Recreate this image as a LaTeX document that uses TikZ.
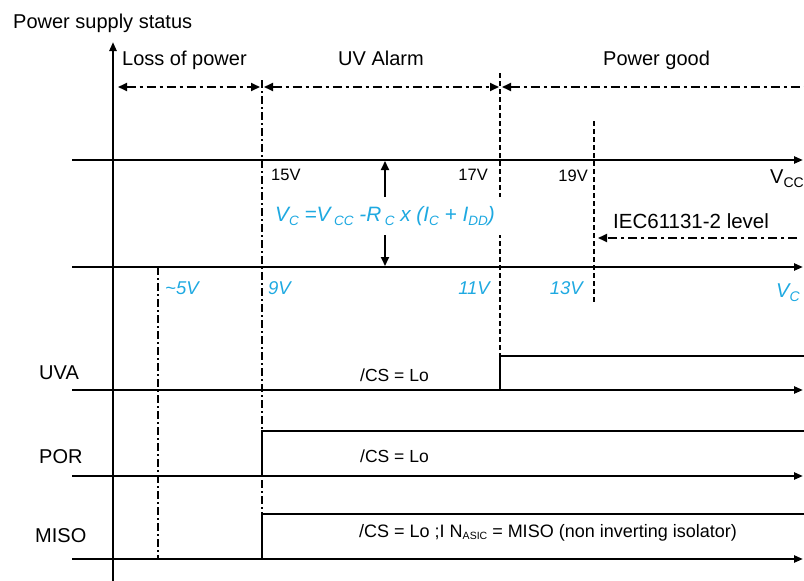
\documentclass[tikz,border=0pt]{standalone}
\usepackage{fontspec}
\setmainfont{Liberation Sans}
\usetikzlibrary{arrows.meta,positioning}
\definecolor{vcblue}{HTML}{1EA9E1}
\newcommand{\sublbl}[2]{\raisebox{-4pt}{\fontsize{#1}{#1}\selectfont #2}}

\begin{document}
\begin{tikzpicture}[x=1pt,y=-1pt,
  axisline/.style={line width=2.3pt,-{Triangle[length=9pt,width=7pt]}},
  levelline/.style={line width=1.3pt},
  dashdot/.style={line width=1.6pt,dash pattern=on 8pt off 3pt on 2pt off 3pt},
  dashline/.style={line width=1.6pt,dash pattern=on 5pt off 3pt},
  spanline/.style={line width=1.8pt,dash pattern=on 9pt off 4pt on 3pt off 4pt,
    >={Triangle[length=9pt,width=8pt]}},
  bigtxt/.style={font=\fontsize{20}{24}\selectfont,inner sep=0pt},
  smalltxt/.style={font=\fontsize{16.5}{20}\selectfont,inner sep=0pt},
  cstxt/.style={font=\fontsize{17.5}{21}\selectfont,inner sep=0pt},
  bluetxt/.style={font=\fontsize{18.5}{22}\selectfont\itshape,text=vcblue,inner sep=0pt}]
  \useasboundingbox (0,0) rectangle (804,581);

  \node[bigtxt,anchor=base west] (status) at (13,28) {Power supply status};
  \node[bigtxt,anchor=base west] (loss) at (122,65) {Loss of power};
  \node[bigtxt,anchor=base west] (uvalarm) at (338,65) {UV Alarm};
  \node[bigtxt,anchor=base west] (good) at (603,65) {Power good};

  \coordinate (axisB) at (113,581);
  \coordinate (axisT) at (113,42);
  \draw[axisline] (axisB) -- (axisT);

  \coordinate (vccL) at (72,160);  \coordinate (vccR) at (803,160);
  \coordinate (vcL) at (72,267);   \coordinate (vcR) at (803,267);
  \coordinate (uvaL) at (72,390);  \coordinate (uvaR) at (803,390);
  \coordinate (porL) at (72,476);  \coordinate (porR) at (803,476);
  \coordinate (misoL) at (72,559); \coordinate (misoR) at (803,559);
  \draw[axisline] (vccL) -- (vccR);
  \draw[axisline] (vcL) -- (vcR);
  \draw[axisline] (uvaL) -- (uvaR);
  \draw[axisline] (porL) -- (porR);
  \draw[axisline] (misoL) -- (misoR);

  \coordinate (r1L) at (118,87); \coordinate (r1R) at (260,87);
  \coordinate (r2L) at (264,87); \coordinate (r2R) at (499,87);
  \coordinate (r3L) at (502,87); \coordinate (r3R) at (804,87);
  \draw[spanline,<->] (r1L) -- (r1R);
  \draw[spanline,<->] (r2L) -- (r2R);
  \draw[spanline,<-] (r3L) -- (r3R);

  \coordinate (sepAT) at (262,80);  \coordinate (sepAB) at (262,559);
  \coordinate (sepBT) at (158,267); \coordinate (sepBB) at (158,559);
  \coordinate (sepCT) at (500,73);  \coordinate (sepCB) at (500,390);
  \coordinate (sepDT) at (594,121); \coordinate (sepDB) at (594,302);
  \draw[dashdot] (sepAT) -- (sepAB);
  \draw[dashdot] (sepBT) -- (sepBB);
  \draw[dashline] (sepCT) -- (sepCB);
  \draw[dashline] (sepDT) -- (sepDB);

  \draw[levelline] (500,390) -- (500,356) -- (804,356);
  \draw[levelline] (262,476) -- (262,431) -- (804,431);
  \draw[levelline] (262,559) -- (262,514) -- (804,514);

  \node[fill=white,inner xsep=12pt,inner ysep=0pt,minimum height=38pt,
        font=\fontsize{20.8}{24}\selectfont\itshape,text=vcblue] (formula) at (385,216)
    {V\sublbl{13.5}{C} =V\,\sublbl{13.5}{CC} -R\,\sublbl{13.5}{C} x (I\sublbl{13.5}{C} + I\sublbl{13.5}{DD})};
  \coordinate (vcTop) at (385,161);
  \coordinate (vcBot) at (385,266);
  \draw[line width=1.8pt,-{Triangle[length=9pt,width=8pt]}] (formula.north -| vcTop) -- (vcTop);
  \draw[line width=1.8pt,-{Triangle[length=9pt,width=8pt]}] (formula.south -| vcBot) -- (vcBot);

  \node[smalltxt,anchor=base west] (v15) at (271,180) {15V};
  \node[smalltxt,anchor=base east] (v17) at (488,180) {17V};
  \node[smalltxt,anchor=base east] (v19) at (588,181) {19V};
  \node[bigtxt,anchor=base west] (vcc) at (770,183) {V\sublbl{14}{CC}};

  \node[bigtxt,font=\fontsize{20.5}{24}\selectfont,anchor=base west] (iec) at (613,228) {IEC61131-2 level};
  \coordinate (iecR) at (797,238);
  \coordinate (iecL) at (598,238);
  \draw[spanline,->] (iecR) -- (iecL);

  \node[bluetxt,anchor=base west] (v5) at (165,294) {\textasciitilde 5V};
  \node[bluetxt,anchor=base west] (v9) at (268,294) {9V};
  \node[bluetxt,anchor=base east] (v11) at (490,294) {11V};
  \node[bluetxt,anchor=base east] (v13) at (583,294) {13V};
  \node[bluetxt,font=\fontsize{20}{24}\selectfont\itshape,anchor=base west] (vc) at (776,297) {V\sublbl{14}{C}};

  \node[bigtxt,anchor=base west] (uva) at (39,379) {UVA};
  \node[bigtxt,anchor=base west] (por) at (39,463) {POR};
  \node[bigtxt,anchor=base west] (miso) at (35,542) {MISO};

  \node[cstxt,anchor=base west] (csuva) at (360,381) {/CS = Lo};
  \node[cstxt,anchor=base west] (cspor) at (360,462) {/CS = Lo};
  \node[cstxt,font=\fontsize{18}{21}\selectfont,anchor=base west] (csmiso) at (359,537)
    {/CS = Lo ;I N\raisebox{-2.5pt}{\fontsize{10.5}{10.5}\selectfont ASIC} = MISO (non inverting isolator)};
\end{tikzpicture}
\end{document}
